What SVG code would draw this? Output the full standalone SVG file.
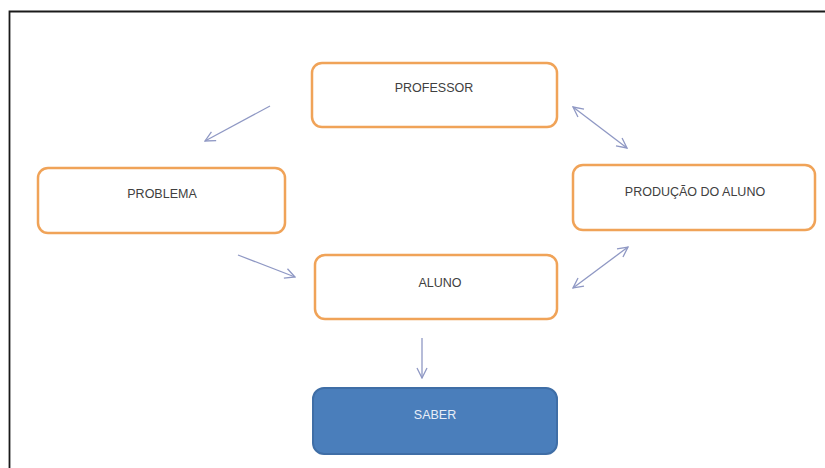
<svg xmlns="http://www.w3.org/2000/svg" width="825" height="468" viewBox="0 0 825 468">
<defs>
<style>
.box{fill:#ffffff;stroke:#f0a358;stroke-width:2.5}
.saber{fill:#4a7ebb;stroke:#3f6ea6;stroke-width:2}
.lbl{font-family:"Liberation Sans",Arial,sans-serif;font-size:12.5px;fill:#404040;text-anchor:middle}
.wlbl{font-family:"Liberation Sans",Arial,sans-serif;font-size:12.5px;fill:#e8eef8;text-anchor:middle}
.conn{stroke:#8f98c4;stroke-width:1.3;fill:none}
</style>
<marker id="ah" viewBox="0 0 12 12" refX="11" refY="6" markerWidth="12" markerHeight="12" markerUnits="userSpaceOnUse" orient="auto-start-reverse">
<path d="M1,1 L11,6 L1,11" fill="none" stroke="#8f98c4" stroke-width="1.3"/>
</marker>
</defs>
<rect x="0" y="0" width="825" height="468" fill="#ffffff"/>
<path d="M9.5,475 V11.5 H830" fill="none" stroke="#1a1a1a" stroke-width="1.8"/>
<g id="connectors">
<line class="conn" x1="270" y1="106" x2="205" y2="141" marker-end="url(#ah)"/>
<line class="conn" x1="573" y1="107" x2="627" y2="148" marker-start="url(#ah)" marker-end="url(#ah)"/>
<line class="conn" x1="238" y1="255" x2="295" y2="277" marker-end="url(#ah)"/>
<line class="conn" x1="573" y1="288" x2="628" y2="247" marker-start="url(#ah)" marker-end="url(#ah)"/>
<line class="conn" x1="422" y1="338" x2="422" y2="378" marker-end="url(#ah)"/>
</g>
<g id="professor">
<rect class="box" x="312" y="63" width="245" height="64" rx="10"/>
<text class="lbl" x="434" y="92">PROFESSOR</text>
</g>
<g id="problema">
<rect class="box" x="38" y="168" width="247" height="65" rx="10"/>
<text class="lbl" x="162" y="198">PROBLEMA</text>
</g>
<g id="producao">
<rect class="box" x="573" y="165" width="242" height="65" rx="10"/>
<text class="lbl" x="695" y="196">PRODUÇÃO DO ALUNO</text>
</g>
<g id="aluno">
<rect class="box" x="315" y="255" width="242" height="64" rx="10"/>
<text class="lbl" x="440" y="287">ALUNO</text>
</g>
<g id="saber">
<rect class="saber" x="313" y="388" width="244" height="66" rx="11"/>
<text class="wlbl" x="435" y="419">SABER</text>
</g>
</svg>
